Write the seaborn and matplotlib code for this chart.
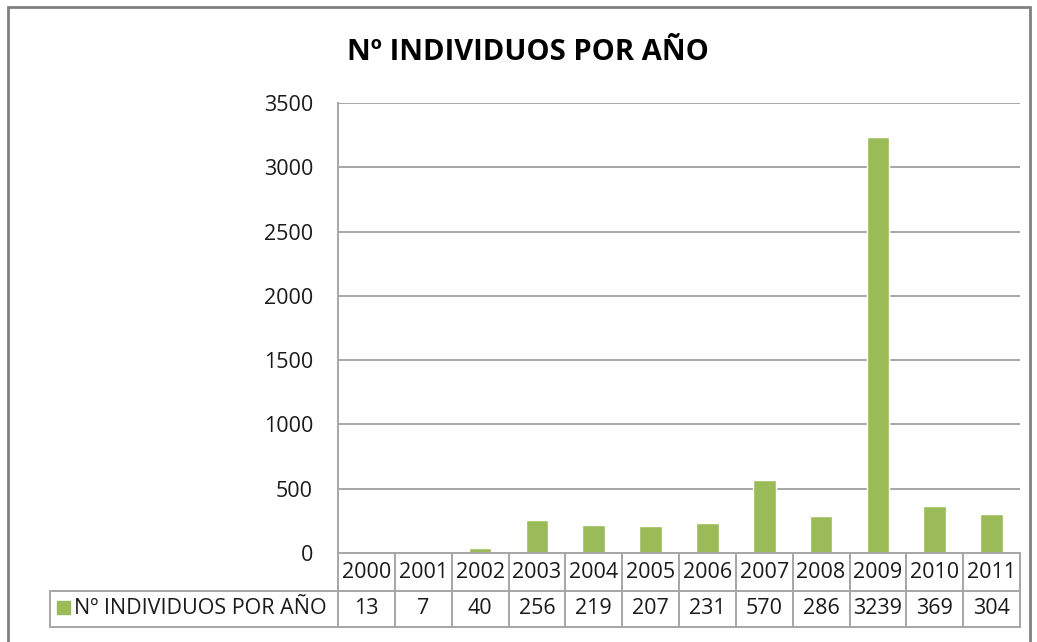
import matplotlib
matplotlib.use("Agg")
import matplotlib.pyplot as plt
import matplotlib.transforms as mtransforms
from matplotlib.patches import Rectangle
import seaborn as sns
import pandas as pd

# data
years = ["2000", "2001", "2002", "2003", "2004", "2005",
         "2006", "2007", "2008", "2009", "2010", "2011"]
individuos = [13, 7, 40, 256, 219, 207, 231, 570, 286, 3239, 369, 304]
series_name = "Nº INDIVIDUOS POR AÑO"
yticks = [0, 500, 1000, 1500, 2000, 2500, 3000, 3500]

GREEN = "#9BBB59"
GRID = "#A6A6A6"
TXT = "#1a1a1a"
FS = 15.5

sns.set_style("white")
plt.rcParams["font.family"] = ["Open Sans", "DejaVu Sans"]

W, H = 1037, 642
fig = plt.figure(figsize=(W / 100, H / 100), dpi=100)

# plot area in pixels: x 338..1020, y 103..553
px0, px1, py0, py1 = 338, 1020, 103, 553
ax = fig.add_axes([px0 / W, 1 - py1 / H, (px1 - px0) / W, (py1 - py0) / H])

df = pd.DataFrame({"year": years, "n": individuos})
sns.barplot(data=df, x="year", y="n", color=GREEN, saturation=1, width=0.40, ax=ax)

ax.set_xlim(-0.5, len(years) - 0.5)
ax.set_ylim(0, 3500)
ax.set_yticks(yticks)
ax.set_yticklabels([str(t) for t in yticks], fontsize=FS, color=TXT)
ax.tick_params(axis="y", length=4, pad=14, color=GRID, width=1.2)
ax.set_xticks([])
ax.set_xlabel("")
ax.set_ylabel("")
for y in yticks[1:]:
    ax.axhline(y, color=GRID, lw=1.4, zorder=0)
for s in ["top", "right", "bottom"]:
    ax.spines[s].set_visible(False)
ax.spines["left"].set_color(GRID)
ax.spines["left"].set_linewidth(1.4)

# data table below the plot
trans = mtransforms.blended_transform_factory(ax.transData, ax.transAxes)
h = py1 - py0
r0 = 0.0
r1 = -(591 - py1) / h
r2 = -(627 - py1) / h
xl = -0.5 - (px0 - 50) / (px1 - px0) * len(years)  # left of legend cell
line_kw = dict(color=GRID, lw=1.4, clip_on=False, transform=trans)

ax.plot([-0.5, len(years) - 0.5], [r0, r0], **line_kw)
ax.plot([xl, len(years) - 0.5], [r1, r1], **line_kw)
ax.plot([xl, len(years) - 0.5], [r2, r2], **line_kw)
ax.plot([xl, xl], [r1, r2], **line_kw)
for i in range(len(years) + 1):
    ax.plot([i - 0.5, i - 0.5], [r0, r2], **line_kw)

for i, (yr, v) in enumerate(zip(years, individuos)):
    ax.text(i, (r0 + r1) / 2, yr, transform=trans, ha="center", va="center",
            fontsize=FS, color=TXT, clip_on=False)
    ax.text(i, (r1 + r2) / 2, str(v), transform=trans, ha="center", va="center",
            fontsize=FS, color=TXT, clip_on=False)

# legend key + series name in the first table cell
fig.patches.append(Rectangle((57 / W, 1 - 614 / H), 13 / W, 13 / H,
                             transform=fig.transFigure, color=GREEN))
fig.text(74 / W, 1 - 609 / H, series_name, ha="left", va="center",
         fontsize=FS, color=TXT)

# title
fig.text(528 / W, 1 - 53 / H, series_name, ha="center", va="center",
         fontsize=21, fontweight="bold", color="black")

# chart frame
fig.patches.append(Rectangle((8 / W, -0.05), (1030 - 8) / W, 1 - 7 / H + 0.05,
                             transform=fig.transFigure, fill=False,
                             edgecolor="#808080", lw=2))

fig.savefig("out.png", dpi=100, facecolor="white")
